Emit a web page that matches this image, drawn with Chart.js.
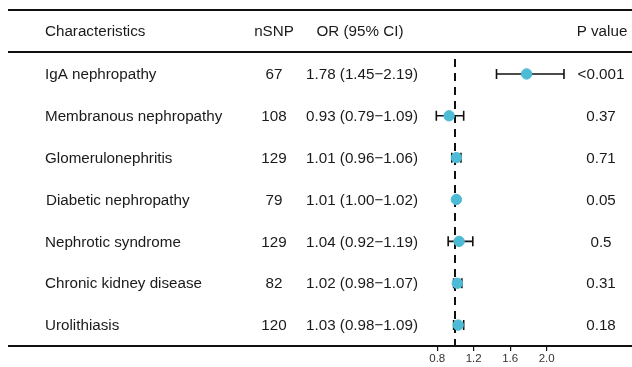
<!DOCTYPE html>
<html>
<head>
<meta charset="utf-8">
<script src="https://cdn.jsdelivr.net/npm/chart.js@4.4.1/dist/chart.umd.min.js"></script>
<style>
  html, body { margin: 0; padding: 0; background: #fff; }
  #wrap { width: 632px; height: 367px; position: relative; }
</style>
</head>
<body>
<div id="wrap"><canvas id="forest"></canvas></div>
<script>
const traits = ["IgA nephropathy", "Membranous nephropathy", "Glomerulonephritis", "Diabetic nephropathy", "Nephrotic syndrome", "Chronic kidney disease", "Urolithiasis"];
const nsnp = [67, 108, 129, 79, 129, 82, 120];
const orValues = [1.78, 0.93, 1.01, 1.01, 1.04, 1.02, 1.03];
const ciLow = [1.45, 0.79, 0.96, 1.00, 0.92, 0.98, 0.98];
const ciHigh = [2.19, 1.09, 1.06, 1.02, 1.19, 1.07, 1.09];
const pValues = ["<0.001", "0.37", "0.71", "0.05", "0.5", "0.31", "0.18"];
const xTicks = [0.8, 1.2, 1.6, 2.0];

const FONT = '15.2px "Liberation Sans", Arial, sans-serif';
const dotColor = '#4DBBD5';

// table text, rules, reference line and whiskers
const tablePlugin = {
    id: 'table',
    beforeDatasetsDraw(chart) {
        const ctx = chart.ctx;
        const x = chart.scales.x;
        const y = chart.scales.y;
        const area = chart.chartArea;
        ctx.save();

        // horizontal rules
        ctx.strokeStyle = '#111';
        ctx.lineWidth = 2;
        [10, area.top - 1, area.bottom].forEach(yy => {
            ctx.beginPath();
            ctx.moveTo(8, yy);
            ctx.lineTo(632, yy);
            ctx.stroke();
        });

        // dashed line at OR = 1
        const x1 = Math.round(x.getPixelForValue(1));
        ctx.setLineDash([8, 6]);
        ctx.lineDashOffset = -6;
        ctx.beginPath();
        ctx.moveTo(x1, area.top);
        ctx.lineTo(x1, area.bottom);
        ctx.stroke();
        ctx.setLineDash([]);

        // whiskers
        ctx.lineWidth = 1.6;
        ctx.strokeStyle = '#111';
        traits.forEach((t, i) => {
            const yy = y.getPixelForValue(i + 1);
            const a = x.getPixelForValue(ciLow[i]);
            const b = x.getPixelForValue(ciHigh[i]);
            ctx.beginPath();
            ctx.moveTo(a, yy);
            ctx.lineTo(b, yy);
            ctx.moveTo(a, yy - 5);
            ctx.lineTo(a, yy + 5);
            ctx.moveTo(b, yy - 5);
            ctx.lineTo(b, yy + 5);
            ctx.stroke();
        });

        // text
        ctx.font = FONT;
        ctx.fillStyle = '#1a1a1a';
        ctx.textBaseline = 'middle';
        ctx.textAlign = 'left';
        ctx.fillText('Characteristics', 45, 32);
        ctx.textAlign = 'center';
        ctx.fillText('nSNP', 274, 32);
        ctx.fillText('OR (95% CI)', 360, 32);
        ctx.fillText('P value', 602, 32);

        traits.forEach((t, i) => {
            const yy = y.getPixelForValue(i + 1) + 1;
            ctx.textAlign = 'left';
            ctx.fillText(t, i === 3 ? 46 : 45, yy);
            ctx.textAlign = 'center';
            ctx.fillText(String(nsnp[i]), 274, yy);
            const txt = orValues[i].toFixed(2) + ' (' + ciLow[i].toFixed(2) + '\u2212' + ciHigh[i].toFixed(2) + ')';
            ctx.fillText(txt, 362, yy);
            ctx.fillText(pValues[i], 601, yy);
        });
        ctx.restore();
    }
};

new Chart(document.getElementById('forest'), {
    type: 'scatter',
    data: {
        datasets: [{
            data: orValues.map((v, i) => ({ x: v, y: i + 1 })),
            backgroundColor: dotColor,
            borderColor: dotColor,
            pointRadius: 5.2,
            pointHoverRadius: 5.2
        }]
    },
    options: {
        responsive: true,
        maintainAspectRatio: false,
        animation: false,
        layout: { padding: { left: 419, right: 58, top: 53, bottom: 0 } },
        plugins: { legend: { display: false }, tooltip: { enabled: false } },
        scales: {
            x: {
                type: 'linear',
                min: 0.6,
                max: 2.3,
                afterBuildTicks: s => { s.ticks = xTicks.map(v => ({ value: v })); },
                afterFit: s => { s.height = 21; },
                border: { display: false },
                grid: { drawOnChartArea: false, tickLength: 5, color: '#111', lineWidth: 1.2 },
                ticks: {
                    padding: 1,
                    color: '#333',
                    font: { family: '"Liberation Sans", Arial, sans-serif', size: 11.5 },
                    callback: v => Number(v).toFixed(1),
                    maxRotation: 0
                }
            },
            y: {
                type: 'linear',
                min: 0.5,
                max: 7.5,
                reverse: true,
                display: false
            }
        }
    },
    plugins: [tablePlugin]
});
</script>
</body>
</html>
